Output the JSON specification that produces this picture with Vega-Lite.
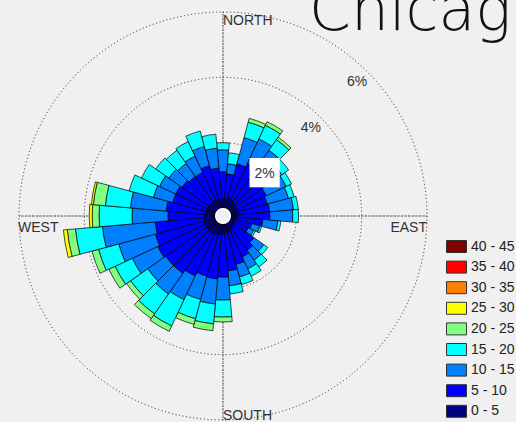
{
  "$schema": "https://vega.github.io/schema/vega-lite/v6.json",
  "width": 446,
  "height": 432,
  "autosize": {"type": "none"},
  "padding": {"left": 0, "top": 0, "right": 70, "bottom": 0},
  "background": "#f0f0f0",
  "config": {"view": {"stroke": null}},
  "title": {
    "text": "Chicago",
    "anchor": "start",
    "frame": "group",
    "dx": 309,
    "dy": 56,
    "offset": -34,
    "baseline": "alphabetic",
    "font": "DejaVu Sans",
    "fontWeight": 200,
    "fontSize": 60,
    "color": "#111111"
  },
  "datasets": {
    "wind": [
      {"dir": 0, "0 - 5": 0.28, "5 - 10": 0.83, "10 - 15": 0.67, "15 - 20": 0.22},
      {"dir": 10, "0 - 5": 0.25, "5 - 10": 0.80, "10 - 15": 0.31, "15 - 20": 0.34},
      {"dir": 20, "0 - 5": 0.31, "5 - 10": 1.10, "10 - 15": 0.83, "15 - 20": 0.49, "20 - 25": 0.12},
      {"dir": 30, "0 - 5": 0.31, "5 - 10": 1.22, "10 - 15": 0.83, "15 - 20": 0.46, "20 - 25": 0.12},
      {"dir": 40, "0 - 5": 0.28, "5 - 10": 1.16, "10 - 15": 0.77, "15 - 20": 0.40, "20 - 25": 0.09},
      {"dir": 50, "0 - 5": 0.25, "5 - 10": 1.04, "10 - 15": 0.67, "15 - 20": 0.25},
      {"dir": 60, "0 - 5": 0.21, "5 - 10": 1.01, "10 - 15": 0.67, "15 - 20": 0.18},
      {"dir": 70, "0 - 5": 0.21, "5 - 10": 0.95, "10 - 15": 0.67, "15 - 20": 0.18},
      {"dir": 80, "0 - 5": 0.21, "5 - 10": 0.98, "10 - 15": 0.73, "15 - 20": 0.15},
      {"dir": 90, "0 - 5": 0.21, "5 - 10": 0.98, "10 - 15": 0.70, "15 - 20": 0.18},
      {"dir": 100, "0 - 5": 0.18, "5 - 10": 0.80, "10 - 15": 0.46, "15 - 20": 0.09},
      {"dir": 110, "0 - 5": 0.15, "5 - 10": 0.52, "10 - 15": 0.25, "15 - 20": 0.06},
      {"dir": 120, "0 - 5": 0.15, "5 - 10": 0.46, "10 - 15": 0.18, "15 - 20": 0.06},
      {"dir": 130, "0 - 5": 0.18, "5 - 10": 0.73, "10 - 15": 0.37, "15 - 20": 0.15},
      {"dir": 140, "0 - 5": 0.21, "5 - 10": 0.83, "10 - 15": 0.37, "15 - 20": 0.25},
      {"dir": 150, "0 - 5": 0.25, "5 - 10": 0.89, "10 - 15": 0.40, "15 - 20": 0.25},
      {"dir": 160, "0 - 5": 0.25, "5 - 10": 1.04, "10 - 15": 0.40, "15 - 20": 0.24},
      {"dir": 170, "0 - 5": 0.28, "5 - 10": 1.16, "10 - 15": 0.46, "15 - 20": 0.25},
      {"dir": 180, "0 - 5": 0.31, "5 - 10": 1.32, "10 - 15": 0.70, "15 - 20": 0.52, "20 - 25": 0.15},
      {"dir": 190, "0 - 5": 0.34, "5 - 10": 1.35, "10 - 15": 0.77, "15 - 20": 0.61, "20 - 25": 0.21},
      {"dir": 200, "0 - 5": 0.34, "5 - 10": 1.32, "10 - 15": 0.74, "15 - 20": 0.61, "20 - 25": 0.18},
      {"dir": 210, "0 - 5": 0.37, "5 - 10": 1.41, "10 - 15": 0.80, "15 - 20": 0.89, "20 - 25": 0.18},
      {"dir": 220, "0 - 5": 0.37, "5 - 10": 1.53, "10 - 15": 0.77, "15 - 20": 0.74, "20 - 25": 0.18},
      {"dir": 230, "0 - 5": 0.37, "5 - 10": 1.53, "10 - 15": 0.67, "15 - 20": 0.64, "20 - 25": 0.15},
      {"dir": 240, "0 - 5": 0.37, "5 - 10": 1.59, "10 - 15": 0.86, "15 - 20": 0.58, "20 - 25": 0.21},
      {"dir": 250, "0 - 5": 0.37, "5 - 10": 1.53, "10 - 15": 1.16, "15 - 20": 0.64, "20 - 25": 0.21},
      {"dir": 260, "0 - 5": 0.34, "5 - 10": 1.50, "10 - 15": 1.62, "15 - 20": 0.83, "20 - 25": 0.25, "25 - 30": 0.12},
      {"dir": 270, "0 - 5": 0.31, "5 - 10": 1.13, "10 - 15": 1.10, "15 - 20": 1.01, "20 - 25": 0.21, "25 - 30": 0.09},
      {"dir": 280, "0 - 5": 0.31, "5 - 10": 1.19, "10 - 15": 1.10, "15 - 20": 0.77, "20 - 25": 0.37, "25 - 30": 0.06},
      {"dir": 290, "0 - 5": 0.28, "5 - 10": 1.07, "10 - 15": 0.61, "15 - 20": 0.77},
      {"dir": 300, "0 - 5": 0.28, "5 - 10": 1.07, "10 - 15": 0.55, "15 - 20": 0.61},
      {"dir": 310, "0 - 5": 0.28, "5 - 10": 1.01, "10 - 15": 0.49, "15 - 20": 0.49},
      {"dir": 320, "0 - 5": 0.28, "5 - 10": 0.95, "10 - 15": 0.49, "15 - 20": 0.49},
      {"dir": 330, "0 - 5": 0.28, "5 - 10": 0.95, "10 - 15": 0.55, "15 - 20": 0.49},
      {"dir": 340, "0 - 5": 0.28, "5 - 10": 1.07, "10 - 15": 0.61, "15 - 20": 0.49},
      {"dir": 350, "0 - 5": 0.28, "5 - 10": 0.95, "10 - 15": 0.61, "15 - 20": 0.43}
    ],
    "classes": [
      {"speed": "0 - 5", "rank": 1},
      {"speed": "5 - 10", "rank": 2},
      {"speed": "10 - 15", "rank": 3},
      {"speed": "15 - 20", "rank": 4},
      {"speed": "20 - 25", "rank": 5},
      {"speed": "25 - 30", "rank": 6}
    ]
  },
  "layer": [
    {
      "data": {"values": [{"ring": 2}, {"ring": 4}, {"ring": 6}]},
      "mark": {"type": "arc", "filled": false, "stroke": "#222222", "strokeWidth": 1, "strokeDash": [1, 2.6]},
      "encoding": {
        "theta": {"datum": 0, "type": "quantitative", "scale": {"domain": [0, 360], "range": [0, 6.283185307179586]}, "stack": null},
        "theta2": {"datum": 360},
        "radius": {"field": "ring", "type": "quantitative", "scale": {"type": "linear", "domain": [0, 6], "range": [8, 204], "zero": false, "nice": false}, "stack": null}
      }
    },
    {
      "data": {"values": [{"a": 0}, {"a": 90}, {"a": 180}, {"a": 270}]},
      "mark": {"type": "arc", "filled": false, "stroke": "#222222", "strokeWidth": 1, "strokeDash": [1, 2.6]},
      "encoding": {
        "theta": {"field": "a", "type": "quantitative", "stack": null},
        "theta2": {"field": "a"},
        "radius": {"datum": 6, "type": "quantitative", "stack": null},
        "radius2": {"datum": 0}
      }
    },
    {
      "data": {"name": "wind"},
      "transform": [
        {"fold": ["0 - 5", "5 - 10", "10 - 15", "15 - 20", "20 - 25", "25 - 30"], "as": ["speed", "freq"]},
        {"filter": {"field": "freq", "valid": true}},
        {"lookup": "speed", "from": {"data": {"name": "classes"}, "key": "speed", "fields": ["rank"]}},
        {"stack": "freq", "groupby": ["dir"], "sort": [{"field": "rank", "order": "ascending"}], "as": ["r0", "r1"]},
        {"bin": {"step": 10, "anchor": 5, "extent": [-5, 355], "nice": false}, "field": "dir", "as": ["a0", "a1"]}
      ],
      "mark": {"type": "arc", "stroke": "#000000", "strokeWidth": 0.7},
      "encoding": {
        "theta": {"field": "a0", "type": "quantitative", "stack": null},
        "theta2": {"field": "a1"},
        "radius": {"field": "r1", "type": "quantitative", "stack": null},
        "radius2": {"field": "r0"},
        "color": {
          "field": "speed",
          "type": "nominal",
          "scale": {
            "domain": ["40 - 45", "35 - 40", "30 - 35", "25 - 30", "20 - 25", "15 - 20", "10 - 15", "5 - 10", "0 - 5"],
            "range": ["#800000", "#ff0000", "#ff8000", "#ffff00", "#80ff80", "#00ffff", "#0080ff", "#0000ff", "#000080"]
          },
          "legend": {
            "title": null,
            "orient": "none",
            "legendX": 446,
            "legendY": 236,
            "padding": 0,
            "symbolType": "M-1,-0.6H1V0.6H-1Z",
            "symbolSize": 400,
            "symbolStrokeColor": "#333333",
            "symbolStrokeWidth": 1,
            "symbolOpacity": 1,
            "labelFont": "Liberation Sans",
            "labelFontSize": 14,
            "labelColor": "#222222",
            "labelOffset": 4,
            "rowPadding": 1.6
          }
        }
      }
    },
    {
      "data": {"values": [{"hole": 1}]},
      "mark": {"type": "arc", "fill": "#ffffff", "stroke": null},
      "encoding": {
        "theta": {"datum": 0, "type": "quantitative", "stack": null},
        "theta2": {"datum": 360},
        "radius": {"datum": -0.05, "type": "quantitative", "stack": null}
      }
    },
    {
      "data": {"values": [{"ring": 2, "box": "██"}]},
      "mark": {"type": "text", "radiusOffset": -14.5, "font": "DejaVu Sans Mono", "fontSize": 24.5, "color": "#ffffff", "align": "center", "baseline": "middle"},
      "encoding": {
        "theta": {"datum": 45, "type": "quantitative", "stack": null},
        "radius": {"field": "ring", "type": "quantitative", "stack": null},
        "text": {"field": "box"}
      }
    },
    {
      "data": {"values": [{"ring": 2, "label": "2%"}, {"ring": 4, "label": "4%"}, {"ring": 6, "label": "6%"}]},
      "mark": {"type": "text", "radiusOffset": -14.5, "font": "Liberation Sans", "fontSize": 14, "color": "#333333", "align": "center", "baseline": "middle"},
      "encoding": {
        "theta": {"datum": 45, "type": "quantitative", "stack": null},
        "radius": {"field": "ring", "type": "quantitative", "stack": null},
        "text": {"field": "label"}
      }
    },
    {
      "data": {"values": [{"a": 0, "ring": 6, "label": "NORTH"}]},
      "mark": {"type": "text", "font": "Liberation Sans", "fontSize": 14, "color": "#333333", "align": "left", "baseline": "alphabetic", "dy": 13},
      "encoding": {
        "theta": {"field": "a", "type": "quantitative", "stack": null},
        "radius": {"field": "ring", "type": "quantitative", "stack": null},
        "text": {"field": "label"}
      }
    },
    {
      "data": {"values": [{"a": 270, "ring": 6, "label": "WEST"}]},
      "mark": {"type": "text", "font": "Liberation Sans", "fontSize": 14, "color": "#333333", "align": "left", "baseline": "alphabetic", "dx": -1, "dy": 15.5},
      "encoding": {
        "theta": {"field": "a", "type": "quantitative", "stack": null},
        "radius": {"field": "ring", "type": "quantitative", "stack": null},
        "text": {"field": "label"}
      }
    },
    {
      "data": {"values": [{"a": 90, "ring": 6, "label": "EAST"}]},
      "mark": {"type": "text", "font": "Liberation Sans", "fontSize": 14, "color": "#333333", "align": "right", "baseline": "alphabetic", "dy": 15.5},
      "encoding": {
        "theta": {"field": "a", "type": "quantitative", "stack": null},
        "radius": {"field": "ring", "type": "quantitative", "stack": null},
        "text": {"field": "label"}
      }
    },
    {
      "data": {"values": [{"a": 180, "ring": 6, "label": "SOUTH"}]},
      "mark": {"type": "text", "font": "Liberation Sans", "fontSize": 14, "color": "#333333", "align": "left", "baseline": "alphabetic", "dy": 0},
      "encoding": {
        "theta": {"field": "a", "type": "quantitative", "stack": null},
        "radius": {"field": "ring", "type": "quantitative", "stack": null},
        "text": {"field": "label"}
      }
    }
  ]
}
